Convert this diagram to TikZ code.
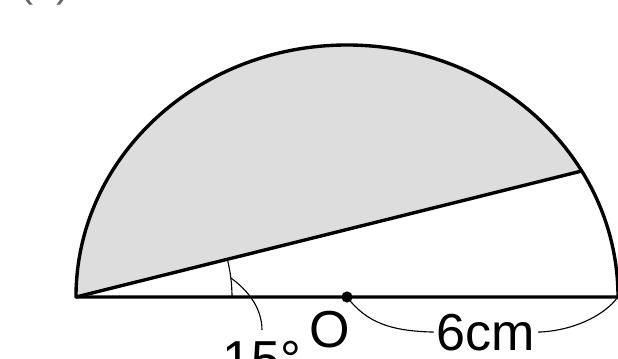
\documentclass[tikz,border=0pt]{standalone}
\usepackage{fontspec}
\setmainfont{Liberation Sans}
\usetikzlibrary{calc}
\definecolor{lightfill}{RGB}{221,221,221}
\tikzset{
	outline/.style={line width=2.4pt, line join=round},
	leader/.style={line width=0.8pt},
	lbl/.style={font=\fontsize{37}{37}\selectfont, inner sep=2pt},
}

\begin{document}
\begin{tikzpicture}
	% semicircle r = 6cm, drawn slightly wider than high
	% x radius 6.775, y radius 6.3
	\useasboundingbox (-8.675,-1.525) rectangle (6.775,7.425);
	\coordinate (O) at (0,0);
	\coordinate (A) at (-6.775,0);
	\coordinate (B) at (6.775,0);
	\coordinate (C) at ({6.775*cos(30)},{6.3*sin(30)});
	
	% shaded part above the chord
	\fill[lightfill] (A) -- (C) arc[start angle=30, end angle=180, x radius=6.775, y radius=6.3] -- cycle;
	
	% outline and chord
	\draw[outline] (A) -- (B) arc[start angle=0, end angle=180, x radius=6.775, y radius=6.3] -- cycle;
	\draw[outline] (A) -- (C);
	\fill (O) circle (0.14);
	
	% angle mark
	\draw[leader] ($(A)+(3.9,0)$) arc[start angle=0, end angle=14, radius=3.9];
	\coordinate (angmid) at ($(A)+(7:3.9)$);
	\coordinate (angtip) at (-2.125,-0.825);
	\draw[leader] (angmid) .. controls (-2.45,0.15) and (-2.125,-0.3) .. (angtip);
	
	% labels
	\node[lbl, anchor=base] (ang) at (-2.125,-2.0) {15°};
	\node[lbl, anchor=base] (olbl) at (-0.425,-1.26) {O};
	\node[lbl, anchor=base] (len) at (3.475,-1.325) {6cm};
	\node[font=\fontsize{30}{30}\selectfont, anchor=base, text=black!60] (num) at (-7.55,7.5) {(3)};
	
	% radius brace
	\draw[leader] (O) .. controls (0.5,-0.65) and (1.1,-0.85) .. (len.west);
	\draw[leader] (len.east) .. controls (5.6,-0.85) and (6.4,-0.5) .. (B);
\end{tikzpicture}
\end{document}
